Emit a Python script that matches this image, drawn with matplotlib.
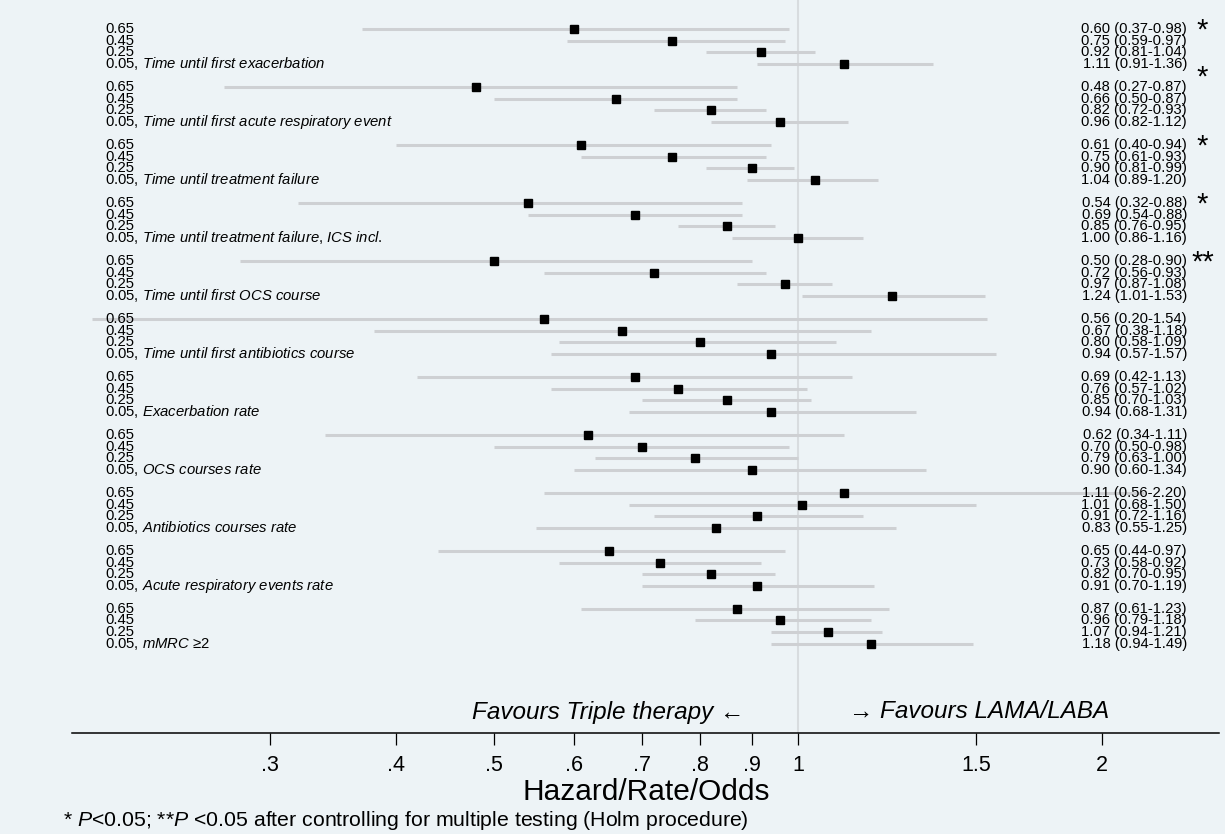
import numpy as np
import matplotlib.pyplot as plt
from matplotlib import transforms

plt.rcParams['font.family'] = ['Liberation Sans', 'DejaVu Sans']
plt.rcParams['mathtext.fontset'] = 'custom'
plt.rcParams['mathtext.rm'] = 'Liberation Sans'
plt.rcParams['mathtext.it'] = 'Liberation Sans:italic'

outcomes = ['Time until first exacerbation', 'Time until first acute respiratory event',
            'Time until treatment failure', 'Time until treatment failure, ICS incl.',
            'Time until first OCS course', 'Time until first antibiotics course',
            'Exacerbation rate', 'OCS courses rate', 'Antibiotics courses rate',
            'Acute respiratory events rate', 'mMRC ≥2']
levels = ['0.65', '0.45', '0.25', '0.05']

est = [[0.60, 0.75, 0.92, 1.11],
       [0.48, 0.66, 0.82, 0.96],
       [0.61, 0.75, 0.90, 1.04],
       [0.54, 0.69, 0.85, 1.00],
       [0.50, 0.72, 0.97, 1.24],
       [0.56, 0.67, 0.80, 0.94],
       [0.69, 0.76, 0.85, 0.94],
       [0.62, 0.70, 0.79, 0.90],
       [1.11, 1.01, 0.91, 0.83],
       [0.65, 0.73, 0.82, 0.91],
       [0.87, 0.96, 1.07, 1.18]]
lo = [[0.37, 0.59, 0.81, 0.91],
      [0.27, 0.50, 0.72, 0.82],
      [0.40, 0.61, 0.81, 0.89],
      [0.32, 0.54, 0.76, 0.86],
      [0.28, 0.56, 0.87, 1.01],
      [0.20, 0.38, 0.58, 0.57],
      [0.42, 0.57, 0.70, 0.68],
      [0.34, 0.50, 0.63, 0.60],
      [0.56, 0.68, 0.72, 0.55],
      [0.44, 0.58, 0.70, 0.70],
      [0.61, 0.79, 0.94, 0.94]]
hi = [[0.98, 0.97, 1.04, 1.36],
      [0.87, 0.87, 0.93, 1.12],
      [0.94, 0.93, 0.99, 1.20],
      [0.88, 0.88, 0.95, 1.16],
      [0.90, 0.93, 1.08, 1.53],
      [1.54, 1.18, 1.09, 1.57],
      [1.13, 1.02, 1.03, 1.31],
      [1.11, 0.98, 1.00, 1.34],
      [2.20, 1.50, 1.16, 1.25],
      [0.97, 0.92, 0.95, 1.19],
      [1.23, 1.18, 1.21, 1.49]]
stars = ['*', '*', '*', '*', '**', '', '', '', '', '', '']
star_shift = [0, -1, 0, 0, 0, 0, 0, 0, 0, 0, 0]

ticks = [.3, .4, .5, .6, .7, .8, .9, 1, 1.5, 2]
tick_labels = ['.3', '.4', '.5', '.6', '.7', '.8', '.9', '1', '1.5', '2']

bg = '#EDF3F6'
W, H = 1225, 834
fig = plt.figure(figsize=(12.25, 8.34), dpi=100, facecolor=bg)
ax = fig.add_axes([72 / W, 1 - 733 / H, (1219 - 72) / W, 733 / H])
ax.set_facecolor(bg)
ax.set_xscale('log')
ax.set_xlim(0.1911, 2.611)
ax.set_ylim(60.7, -2.5)

ax.axvline(1, color='#D8DCDF', lw=1.5, zorder=0)

tr = transforms.blended_transform_factory(ax.transAxes, ax.transData)
for g in range(len(outcomes)):
    for r in range(4):
        y = g * 5 + r
        ax.plot([lo[g][r], hi[g][r]], [y, y], color='#CED0D3', lw=2.2,
                solid_capstyle='butt', zorder=1)
        ax.plot(est[g][r], y, 's', color='black', ms=5.3, zorder=3)
        if r == 3:
            name = outcomes[g].replace(' ', r'\ ').replace(',', '{,}')
            lab = levels[r] + ', $\\mathit{' + name + '}$'
        else:
            lab = levels[r]
        ax.text(0.0288, y, lab, transform=tr, ha='left', va='center',
                fontsize=10.7, zorder=4)
        ax.text(0.972, y, '%.2f (%.2f-%.2f)' % (est[g][r], lo[g][r], hi[g][r]),
                transform=tr, ha='right', va='center', fontsize=10.6, zorder=4)
    if stars[g]:
        ax.text(0.9855, g * 5 + star_shift[g] + 0.15, stars[g], transform=tr,
                ha='center', va='center', fontsize=21)

for s in ['top', 'left', 'right']:
    ax.spines[s].set_visible(False)
ax.spines['bottom'].set_linewidth(1.1)
ax.set_yticks([])
ax.set_xticks(ticks)
ax.set_xticklabels(tick_labels)
ax.minorticks_off()
ax.tick_params(axis='x', length=8.5, width=0.9, pad=7, labelsize=15.5)

fig.text(744 / W, 1 - 712 / H, 'Favours Triple therapy ←', ha='right', va='center',
         fontsize=17.5, style='italic')
fig.text(849 / W, 1 - 712 / H, '→ Favours LAMA/LABA', ha='left', va='center',
         fontsize=17.5, style='italic')
fig.text(646 / W, 1 - 792 / H, 'Hazard/Rate/Odds', ha='center', va='center',
         fontsize=21.5)
fig.text(63 / W, 1 - 821 / H,
         '* $P$<0.05; **$P$ <0.05 after controlling for multiple testing (Holm procedure)',
         ha='left', va='center', fontsize=15.3)

fig.savefig('out.png', dpi=100, facecolor=bg)
